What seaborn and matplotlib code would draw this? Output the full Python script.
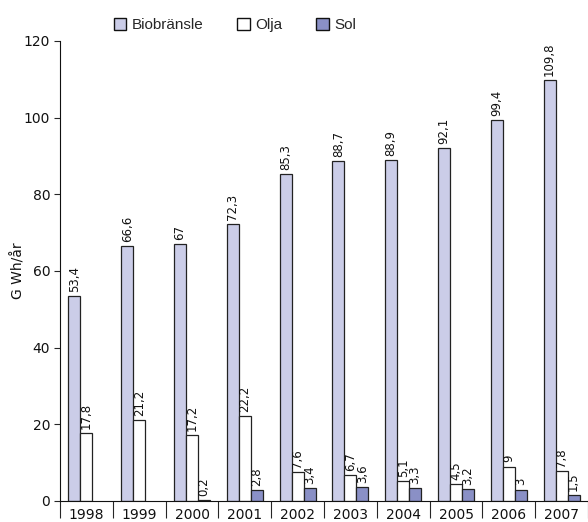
import pandas as pd
import seaborn as sns
import matplotlib.pyplot as plt
from matplotlib.ticker import FixedLocator

years = ["1998", "1999", "2000", "2001", "2002", "2003", "2004", "2005", "2006", "2007"]
biobransle = [53.4, 66.6, 67, 72.3, 85.3, 88.7, 88.9, 92.1, 99.4, 109.8]
olja = [17.8, 21.2, 17.2, 22.2, 7.6, 6.7, 5.1, 4.5, 9, 7.8]
sol = [None, None, 0.2, 2.8, 3.4, 3.6, 3.3, 3.2, 3, 1.5]
series = ["Biobränsle", "Olja", "Sol"]
colors = ["#cbcde8", "#ffffff", "#8a90c6"]

df = pd.DataFrame({"År": years, "Biobränsle": biobransle, "Olja": olja, "Sol": sol})
long_df = df.melt(id_vars="År", var_name="Typ", value_name="GWh")

sns.set_style("white")
plt.rcParams["font.family"] = ["DejaVu Sans"]

fig = plt.figure(figsize=(5.88, 5.22), dpi=100)
ax = fig.add_axes([60 / 588, 21 / 522, 528 / 588, 460 / 522])

sns.barplot(data=long_df, x="År", y="GWh", hue="Typ", hue_order=series,
            palette=colors, width=0.68, gap=0, edgecolor="#222222",
            linewidth=0.9, saturation=1, legend=False, ax=ax)

for cont in ax.containers:
    ax.bar_label(cont, fmt=lambda v: f"{v:g}".replace(".", ","),
                 rotation=90, padding=3, fontsize=8.5, color="#111111")

ax.set_ylim(0, 120)
ax.set_xlim(-0.5, 9.5)
ax.set_yticks([0, 20, 40, 60, 80, 100, 120])
ax.tick_params(axis="y", length=4, width=0.8, labelsize=10, pad=3, left=True,
               labelcolor="#111111")
ax.xaxis.set_minor_locator(FixedLocator([i - 0.5 for i in range(11)]))
ax.tick_params(axis="x", which="major", length=0, labelsize=10, pad=5,
               labelcolor="#111111")
ax.tick_params(axis="x", which="minor", length=12, width=0.8, bottom=True,
               direction="out")
ax.set_xlabel("")
ax.set_ylabel("G Wh/år", fontsize=10, color="#111111")
ax.yaxis.set_label_coords(-0.066, 0.5)
for side in ["top", "right"]:
    ax.spines[side].set_visible(False)
ax.spines["left"].set_color("#111111")
ax.spines["bottom"].set_color("#111111")

handles = [plt.Rectangle((0, 0), 1, 1, facecolor=c, edgecolor="#111111", linewidth=1)
           for c in colors]
fig.legend(handles, series, loc="center", bbox_to_anchor=(0.4, 0.952), ncol=3,
           frameon=False, handlelength=0.8, handleheight=0.8, handletextpad=0.4,
           columnspacing=2.2, prop={"family": "Liberation Sans", "size": 11})

fig.savefig("out.png", dpi=100)
